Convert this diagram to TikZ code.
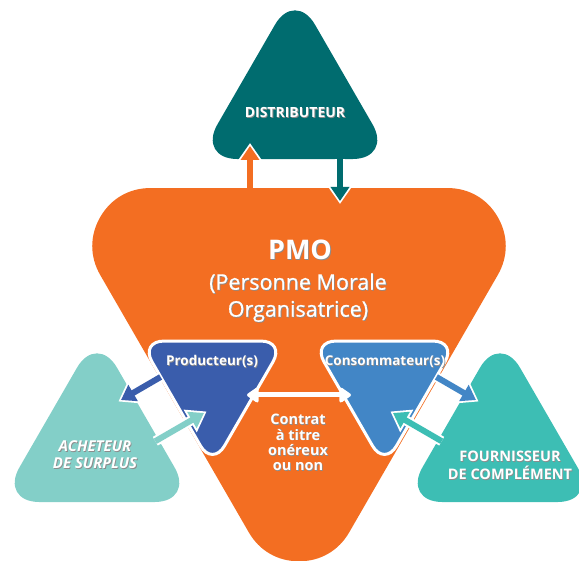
\documentclass[tikz,border=0pt]{standalone}
\usepackage{fontspec}
\setmainfont{Open Sans}
\newfontface\mediumface{Open Sans}[FakeBold=0.8]
\usetikzlibrary{shapes.geometric, arrows.meta}

\definecolor{pmoorange}{RGB}{243,110,34}
\definecolor{distteal}{RGB}{0,108,111}
\definecolor{achteal}{RGB}{131,207,200}
\definecolor{fourteal}{RGB}{61,190,180}
\definecolor{prodblue}{RGB}{58,93,172}
\definecolor{consblue}{RGB}{66,134,198}

\newcommand\withshadow[1]{\leavevmode\rlap{\kern0.8pt\raisebox{-0.8pt}{\color{black!45}#1}}#1}

\begin{document}
\begin{tikzpicture}[x=1pt, y=-1pt,
  tri/.style={regular polygon, regular polygon sides=3, inner sep=0pt, outer sep=0pt},
  bigtri/.style={tri, minimum size=225.3pt, rounded corners=40pt},
  smalltri/.style={tri, shape border rotate=180, minimum size=167.4pt, rounded corners=24pt, draw=white, line width=3pt},
  flow/.style={line width=6pt, -{Triangle[length=14pt, width=18pt]},
    preaction={draw=white, line width=10pt, shorten >=-3pt, -{Triangle[length=19pt, width=25pt]}}},
  txt/.style={text=white, align=center, inner sep=0pt}]
\useasboundingbox (0,0) rectangle (579,561);

% Partenaires exterieurs
\node[bigtri, fill=achteal] (acheteur) at (97,445.7) {};
\node[bigtri, fill=fourteal] (fournisseur) at (500,445.7) {};
\node[bigtri, fill=distteal] (distributeur) at (295,102.7) {};

% PMO (coins arrondis par le trait)
\node[tri, shape border rotate=180, minimum size=343pt, fill=pmoorange, draw=pmoorange, line width=116pt, line join=round] (pmo) at (299,331.8) {};

% Producteurs et consommateurs
\node[smalltri, fill=prodblue] (producteur) at (212.5,382.9) {};
\node[smalltri, fill=consblue] (consommateur) at (384.5,382.9) {};

% Extremites des fleches
\coordinate (up-tail) at (250,188);
\coordinate (up-tip) at (250,146);
\coordinate (down-tail) at (340,159);
\coordinate (down-tip) at (340,201);
\coordinate (vente-tail) at (160.6,377);
\coordinate (vente-tip) at (121,400);
\coordinate (surplus-tail) at (155.3,441.2);
\coordinate (surplus-tip) at (204,413);
\coordinate (achat-tail) at (436.4,377);
\coordinate (achat-tip) at (476,400);
\coordinate (complement-tail) at (441.7,441.2);
\coordinate (complement-tip) at (393,413);
\coordinate (contrat-l) at (247,395);
\coordinate (contrat-r) at (351,395);

% Fleches
\draw[flow, pmoorange] (up-tail) -- (up-tip);
\draw[flow, distteal] (down-tail) -- (down-tip);
\draw[flow, prodblue] (vente-tail) -- (vente-tip);
\draw[flow, achteal] (surplus-tail) -- (surplus-tip);
\draw[flow, consblue] (achat-tail) -- (achat-tip);
\draw[flow, fourteal] (complement-tail) -- (complement-tip);
\draw[white, line width=5pt, {Triangle[length=13pt, width=17pt, round]}-{Triangle[length=13pt, width=17pt, round]}] (contrat-l) -- (contrat-r);

% Textes
\node[txt, font=\bfseries\fontsize{14}{16}\selectfont] (distributeur-text) at (295,113) {\withshadow{DISTRIBUTEUR}};
\node[txt, font=\bfseries\fontsize{27}{30}\selectfont] (pmo-title) at (300,250) {\withshadow{PMO}};
\node[txt, font=\mediumface\fontsize{21.5}{27}\selectfont] (pmo-text) at (298,298) {\withshadow{(Personne Morale}\\\withshadow{Organisatrice)}};
\node[txt, font=\bfseries\fontsize{13.5}{15}\selectfont] (producteur-text) at (212,362) {\withshadow{Producteur(s)}};
\node[txt, font=\bfseries\fontsize{13.5}{15}\selectfont] (consommateur-text) at (385,362) {\withshadow{Consommateur(s)}};
\node[txt, font=\bfseries\fontsize{14.5}{15.3}\selectfont] (contrat-text) at (298,443) {\withshadow{Contrat}\\\withshadow{à titre}\\\withshadow{onéreux}\\\withshadow{ou non}};
\node[txt, font=\bfseries\itshape\fontsize{15}{16.5}\selectfont] (acheteur-text) at (95,455) {\withshadow{ACHETEUR}\\\withshadow{DE SURPLUS}};
\node[txt, font=\bfseries\fontsize{14.5}{18}\selectfont] (fournisseur-text) at (510,466) {\withshadow{FOURNISSEUR}\\\withshadow{DE COMPLÉMENT}};
\end{tikzpicture}
\end{document}
